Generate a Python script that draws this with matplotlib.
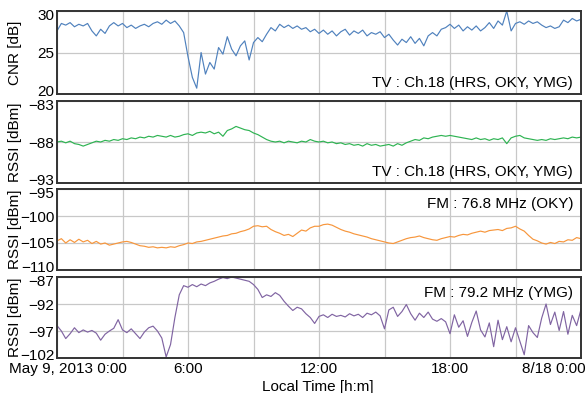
import numpy as np
import matplotlib
matplotlib.use('Agg')
import matplotlib.pyplot as plt
import matplotlib.transforms as mtransforms

plt.rcParams['font.family'] = ['Liberation Sans', 'DejaVu Sans']

# Valores, cada 0.2 h de 0:00 a 24:00
cnr_tv = [
    27.6, 28.5, 28.3, 28.6, 28.1, 28.4, 28.2, 28.5, 27.6, 27.0,
    27.8, 27.3, 28.2, 28.6, 28.2, 28.5, 28.0, 28.3, 27.9, 28.2,
    28.4, 28.1, 28.5, 28.7, 28.4, 28.9, 28.5, 28.8, 28.2, 27.4,
    24.5, 22.0, 20.7, 25.0, 22.4, 23.8, 23.0, 25.6, 24.8, 26.9,
    25.4, 24.6, 25.8, 26.4, 24.1, 26.2, 26.8, 26.3, 27.2, 28.0,
    27.6, 28.4, 28.0, 28.3, 27.9, 28.2, 27.8, 28.0, 27.5, 27.8,
    27.3, 27.7, 27.2, 27.6, 27.0, 27.5, 27.8, 27.1, 27.6, 27.3,
    27.7, 27.0, 27.4, 27.2, 27.5, 26.8, 27.2, 26.5, 25.9, 26.6,
    26.2, 26.9, 26.1, 26.7, 25.8, 27.0, 27.4, 27.0, 27.8, 28.0,
    28.4, 27.9, 28.3, 27.6, 28.1, 27.7, 28.2, 27.6, 28.0, 28.6,
    27.9, 28.8, 28.3, 30.0, 27.6, 28.5, 28.7, 28.4, 28.8, 28.5,
    28.7, 28.3, 28.0, 28.2, 27.9, 28.1, 28.9, 28.6, 29.1, 28.8,
    29.0,
]
rssi_tv = [
    -88.0, -87.9, -88.1, -87.9, -88.2, -88.3, -88.5, -88.3, -88.1, -87.9,
    -88.0, -87.8, -87.9, -87.7, -87.8, -87.6, -87.7, -87.5, -87.6, -87.4,
    -87.5, -87.3, -87.4, -87.2, -87.3, -87.4, -87.2, -87.4, -87.3, -87.1,
    -87.0, -87.2, -86.9, -86.8, -86.9, -86.7, -87.0, -86.8, -87.3, -86.6,
    -86.4, -86.1, -86.3, -86.5, -86.6, -86.9, -87.1, -87.4, -87.7, -87.9,
    -88.0, -87.9, -88.1, -87.9, -88.0, -88.1, -87.9, -88.0, -87.7, -87.9,
    -88.0, -87.9, -88.1, -88.0, -88.2, -88.1, -88.3, -88.2, -88.4, -88.3,
    -88.5, -88.2, -88.4, -88.3, -88.5, -88.4, -88.3, -88.5, -88.2, -88.4,
    -88.1, -87.9, -87.7, -87.8, -87.5, -87.6, -87.4, -87.3, -87.2, -87.3,
    -87.2, -87.3, -87.4, -87.5, -87.6, -87.7, -87.5, -87.7, -87.6, -87.8,
    -87.6, -87.7, -87.5, -88.2, -87.5, -87.3, -87.2, -87.5, -87.6, -87.7,
    -87.8, -87.7, -87.8, -87.6, -87.7, -87.6, -87.5, -87.6, -87.4, -87.5,
    -87.4,
]
rssi_oky = [
    -104.6, -104.2, -105.0, -104.4, -104.9, -104.3, -104.8, -104.5, -105.1, -104.7,
    -105.2, -105.0, -105.4, -105.2, -105.0, -104.8, -104.7, -104.9, -105.2, -105.5,
    -105.6, -105.8, -105.7, -105.9, -105.8, -105.9, -105.7, -105.8, -105.5, -105.3,
    -105.0, -105.1, -104.8, -104.7, -104.5, -104.3, -104.1, -103.9, -103.7, -103.6,
    -103.3, -103.2, -102.9, -102.7, -102.4, -101.9, -101.8, -102.0, -101.9, -102.5,
    -102.9, -103.2, -103.6, -103.4, -103.8, -103.2, -102.6, -102.8, -102.2, -101.9,
    -101.9, -101.6, -101.5, -101.7, -102.1, -102.5, -102.8, -103.0, -103.3, -103.5,
    -103.7, -103.9, -104.2, -104.4, -104.6, -104.8, -105.0, -105.1, -104.8, -104.5,
    -104.2, -104.0, -103.9, -103.7, -104.0, -104.2, -104.4, -104.5, -104.2, -104.0,
    -103.8, -103.9, -103.6, -103.4, -103.5, -103.2, -103.0, -102.8, -103.0, -102.7,
    -102.6, -102.5, -102.7, -102.3, -102.2, -101.9, -102.4, -102.8, -103.6, -104.3,
    -104.6, -105.0, -105.2, -104.9, -105.1, -104.7, -104.8, -104.4, -104.5, -104.0,
    -104.2,
]
rssi_ymg = [
    -96.0, -97.0, -98.4, -97.5, -96.4, -97.3, -96.8, -97.2, -96.9, -97.4,
    -98.7, -97.6, -97.0, -96.5, -94.9, -96.8, -97.3, -96.6, -97.5, -98.4,
    -97.2, -96.4, -96.1, -97.0, -98.3, -101.8, -99.5, -94.5, -90.3, -88.6,
    -88.9, -88.4, -88.8, -88.3, -88.6, -88.1, -87.8, -87.4, -87.1, -87.3,
    -87.0, -87.2, -87.4, -87.6, -87.8, -88.4, -89.3, -90.8, -90.3, -90.6,
    -89.9, -90.4, -91.5, -92.4, -93.2, -92.6, -92.9, -93.8, -94.5, -95.6,
    -94.3, -94.0, -94.5, -93.9, -94.3, -94.1, -94.4, -93.8, -94.2, -93.9,
    -94.5, -93.7, -94.0, -93.5, -94.2, -96.6, -93.1, -92.6, -94.3, -93.4,
    -92.1, -93.8, -95.0, -93.7, -94.5, -93.5, -94.8, -95.2, -94.7, -95.3,
    -97.5, -94.0, -96.3, -95.1, -98.0, -95.4, -93.3, -96.8, -98.1, -95.5,
    -99.9, -95.0, -98.6, -96.2, -99.0, -96.4, -98.9, -101.4, -96.0, -97.3,
    -98.2, -94.6, -92.0, -95.8, -93.5, -96.9, -93.4, -97.6, -94.1, -96.0,
    -93.0,
]

series = [cnr_tv, rssi_tv, rssi_oky, rssi_ymg]
colors = ['#4f81bd', '#2eb352', '#f7963c', '#8064a2']
ylabels = ['CNR [dB]', 'RSSI [dBm]', 'RSSI [dBm]', 'RSSI [dBm]']
ylims = [(20, 30), (-93, -83), (-110, -95), (-102, -87)]
yticks = [[20, 25, 30], [-93, -88, -83], [-110, -105, -100, -95], [-102, -97, -92, -87]]
captions = ['TV : Ch.18 (HRS, OKY, YMG)', 'TV : Ch.18 (HRS, OKY, YMG)',
            'FM : 76.8 MHz (OKY)', 'FM : 79.2 MHz (YMG)']
caption_y = [0.13, 0.13, 0.81, 0.8]
xtick_hours = [0, 6, 12, 18, 24]
xtick_labels = ['May 9, 2013 0:00', '6:00', '12:00', '18:00', '8/18 0:00']

W, H = 587, 393
fs = 11
fig = plt.figure(figsize=(W / 100, H / 100), dpi=100)
panels = [(11, 94), (101, 183), (189, 270), (277, 358)]
left, right = 57, 581


def shift(label, dx, dy):
    label.set_transform(label.get_transform() +
                        mtransforms.ScaledTranslation(dx / 100, dy / 100, fig.dpi_scale_trans))


axes = []
for i, (top, bottom) in enumerate(panels):
    ax = fig.add_axes([left / W, 1 - bottom / H, (right - left) / W, (bottom - top) / H])
    vals = series[i]
    hours = np.linspace(0, 24, len(vals))
    ax.plot(hours, vals, color=colors[i], lw=0.85)
    ax.set_xlim(0, 24)
    ax.set_ylim(*ylims[i])
    ax.set_yticks(yticks[i])
    ax.set_xticks(np.arange(0, 25, 3))
    ax.grid(True, color='#c8c8c8', lw=0.9)
    ax.set_axisbelow(True)
    ax.tick_params(length=0, labelsize=fs, pad=2)
    ax.set_ylabel(ylabels[i], fontsize=fs)
    ax.yaxis.set_label_coords(-0.067, 0.5)
    for s in ax.spines.values():
        s.set_color('#333333')
        s.set_linewidth(1.4)
    ax.text(0.985, caption_y[i], captions[i], transform=ax.transAxes,
            ha='right', va='center', fontsize=fs)
    ax.set_xticklabels([])
    ytl = ax.get_yticklabels()
    shift(ytl[0], 0, 4)
    shift(ytl[-1], 0, -3)
    axes.append(ax)

ax = axes[-1]
labels = []
for h in np.arange(0, 25, 3):
    if h in xtick_hours:
        labels.append(xtick_labels[xtick_hours.index(h)])
    else:
        labels.append('')
ax.set_xticklabels(labels)
ax.tick_params(axis='x', pad=3)
tl = ax.get_xticklabels()
shift(tl[0], 11, 0)
tl[-1].set_horizontalalignment('right')
shift(tl[-1], 5, 0)

fig.text(0.541, 1 - 380 / H, 'Local Time [h:m]', ha='center', va='top', fontsize=fs)

fig.savefig('out.png', dpi=100)
